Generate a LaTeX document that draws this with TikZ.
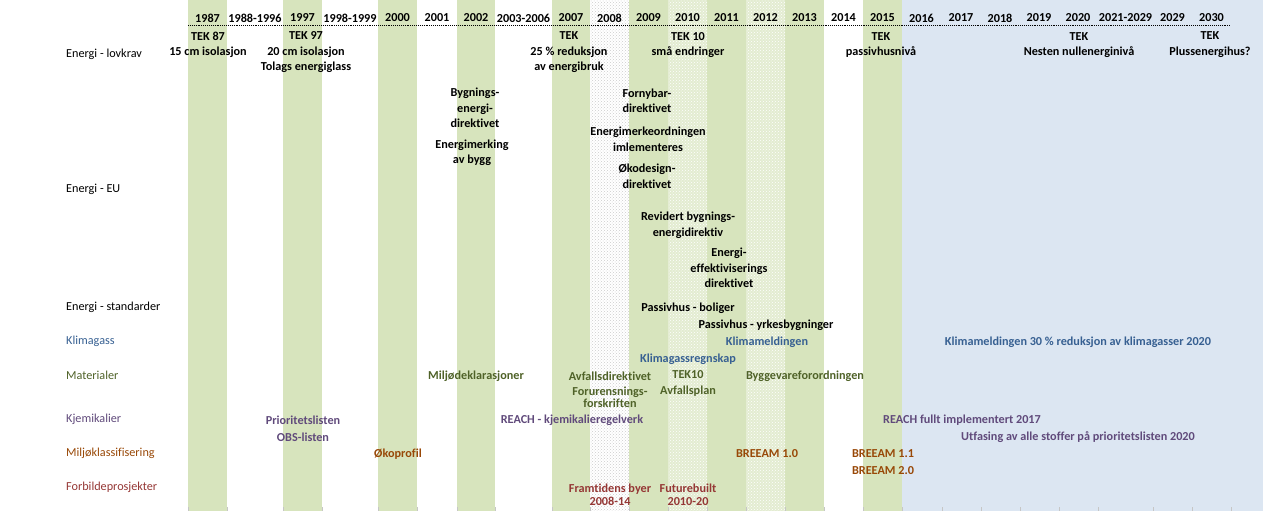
\documentclass[tikz,border=0pt]{standalone}
\usepackage{fontspec}
\setmainfont{Carlito}[Ligatures={NoCommon}]
\usepackage{tikz}
\usetikzlibrary{patterns}
\definecolor{fillgreen}{HTML}{D7E4BD}
\definecolor{fillblue}{HTML}{DCE6F2}
\definecolor{klimablue}{HTML}{376092}
\definecolor{matolive}{HTML}{4F6228}
\definecolor{kjemipurple}{HTML}{604A7B}
\definecolor{miljoorange}{HTML}{984807}
\definecolor{forbildred}{HTML}{953735}
\tikzstyle{rowlabel} = [anchor=west, inner sep=0pt, font=\fontsize{12.2}{15}\selectfont]
\tikzstyle{yearcell} = [inner sep=0pt, font=\bfseries\fontsize{12.2}{15}\selectfont]
\tikzstyle{entrycell} = [inner sep=0pt, align=center, font=\bfseries\fontsize{12.2}{15.5}\selectfont]
\tikzstyle{klimacell} = [entrycell, text=klimablue]
\tikzstyle{matcell} = [entrycell, text=matolive]
\tikzstyle{kjemicell} = [entrycell, text=kjemipurple]
\tikzstyle{miljocell} = [entrycell, text=miljoorange]
\tikzstyle{forbildcell} = [entrycell, text=forbildred]
\tikzstyle{greencol} = [fill=fillgreen]
\tikzstyle{dotcol} = [pattern=crosshatch dots, pattern color=gray!40]
\tikzstyle{dotgreencol} = [pattern=crosshatch dots, pattern color=white]

\begin{document}
\begin{tikzpicture}[x=1pt, y=-1pt]
\useasboundingbox (0,0) rectangle (1263,511);
% Column backgrounds:
% green years
\fill[greencol] (188,0) rectangle (227,511);
\fill[greencol] (283,0) rectangle (322,511);
\fill[greencol] (378,0) rectangle (417,511);
\fill[greencol] (457,0) rectangle (495,511);
\fill[greencol] (552,0) rectangle (590,511);
\fill[greencol] (629,0) rectangle (668,511);
\fill[greencol] (707,0) rectangle (746,511);
\fill[greencol] (785,0) rectangle (824,511);
\fill[greencol] (863,0) rectangle (902,511);
% dotted years (2008, 2010, 2012)
\fill[dotcol] (590,0) rectangle (629,511);
\fill[fillgreen!70] (668,0) rectangle (707,511);
\fill[dotgreencol] (668,0) rectangle (707,511);
\fill[fillgreen!70] (746,0) rectangle (785,511);
\fill[dotgreencol] (746,0) rectangle (785,511);
% future, 2016 and on
\fill[fillblue] (902,0) rectangle (1263,511);
% Ticks at the bottom edge
\draw[gray!45, line width=0.8pt] (188,507) -- (188,511) (227,507) -- (227,511)
  (283,507) -- (283,511) (322,507) -- (322,511) (378,507) -- (378,511)
  (417,507) -- (417,511) (457,507) -- (457,511) (495,507) -- (495,511)
  (552,507) -- (552,511) (590,507) -- (590,511) (629,507) -- (629,511)
  (668,507) -- (668,511) (707,507) -- (707,511) (746,507) -- (746,511)
  (785,507) -- (785,511) (824,507) -- (824,511) (863,507) -- (863,511)
  (902,507) -- (902,511) (942,507) -- (942,511) (981,507) -- (981,511)
  (1020,507) -- (1020,511) (1059,507) -- (1059,511) (1098,507) -- (1098,511)
  (1153,507) -- (1153,511) (1192,507) -- (1192,511) (1231,507) -- (1231,511);
% Year header and dotted rule
\coordinate (rulestart) at (188,25);
\coordinate (ruleend) at (1231,25);
\draw[densely dotted, line width=0.9pt] (rulestart) -- (ruleend);
\node[yearcell] (y1987) at (207.5,18) {1987};
\node[yearcell] (y1988) at (255,18) {1988-1996};
\node[yearcell] (y1997) at (302.5,18) {1997};
\node[yearcell] (y1998) at (350,18) {1998-1999};
\node[yearcell] (y2000) at (397.5,18) {2000};
\node[yearcell] (y2001) at (437,18) {2001};
\node[yearcell] (y2002) at (476,18) {2002};
\node[yearcell] (y2003) at (523.5,18) {2003-2006};
\node[yearcell] (y2007) at (571,18) {2007};
\node[yearcell] (y2008) at (609.5,18) {2008};
\node[yearcell] (y2009) at (648.5,18) {2009};
\node[yearcell] (y2010) at (687.5,18) {2010};
\node[yearcell] (y2011) at (726.5,18) {2011};
\node[yearcell] (y2012) at (765.5,18) {2012};
\node[yearcell] (y2013) at (804.5,18) {2013};
\node[yearcell] (y2014) at (843.5,18) {2014};
\node[yearcell] (y2015) at (882.5,18) {2015};
\node[yearcell] (y2016) at (921.5,18) {2016};
\node[yearcell] (y2017) at (961,18) {2017};
\node[yearcell] (y2018) at (1000,18) {2018};
\node[yearcell] (y2019) at (1039,18) {2019};
\node[yearcell] (y2020) at (1078,18) {2020};
\node[yearcell] (y2021) at (1125.5,18) {2021-2029};
\node[yearcell] (y2029) at (1172.5,18) {2029};
\node[yearcell] (y2030) at (1211.5,18) {2030};
% Row labels
\node[rowlabel] (lovkrav) at (66,54.5) {Energi - lovkrav};
\node[rowlabel] (eu) at (66,189.5) {Energi - EU};
\node[rowlabel] (standarder) at (66,307.5) {Energi - standarder};
\node[rowlabel, text=klimablue] (klimagass) at (66,341.5) {Klimagass};
\node[rowlabel, text=matolive] (materialer) at (66,375.5) {Materialer};
\node[rowlabel, text=kjemipurple] (kjemikalier) at (66,419.5) {Kjemikalier};
\node[rowlabel, text=miljoorange] (miljoklass) at (66,453.5) {Miljøklassifisering};
\node[rowlabel, text=forbildred] (forbilde) at (66,487.5) {Forbildeprosjekter};
% Row, Energi - lovkrav
\node[entrycell] (tek87) at (208,45) {TEK 87\\15 cm isolasjon};
\node[entrycell] (tek97) at (306,52.5) {TEK 97\\20 cm isolasjon\\Tolags energiglass};
\node[entrycell] (tek07) at (569,52.5) {TEK\\25 \% reduksjon\\av energibruk};
\node[entrycell] (tek10) at (688,45) {TEK 10\\små endringer};
\node[entrycell] (tek15) at (881,45) {TEK\\passivhusnivå};
\node[entrycell] (tek20) at (1079,45) {TEK\\Nesten nullenerginivå};
\node[entrycell] (tek30) at (1210,44.5) {TEK\\Plussenergihus?};
% Row, Energi - EU
\node[entrycell] (bygdir) at (475,108) {Bygnings-\\energi-\\direktivet};
\node[entrycell] (merking) at (472,153) {Energimerking\\av bygg};
\node[entrycell] (fornybar) at (647,101) {Fornybar-\\direktivet};
\node[entrycell] (merkeordning) at (648,139.5) {Energimerkeordningen\\imlementeres};
\node[entrycell] (okodesign) at (647,176.5) {Økodesign-\\direktivet};
\node[entrycell] (revidert) at (688,225.5) {Revidert bygnings-\\energidirektiv};
\node[entrycell] (effektiv) at (729,268) {Energi-\\effektiviserings\\direktivet};
% Row, Energi - standarder
\node[entrycell] (passivbolig) at (688,308) {Passivhus - boliger};
\node[entrycell] (passivyrkes) at (766,325) {Passivhus - yrkesbygninger};
% Row, Klimagass
\node[klimacell] (klimamelding) at (767,342) {Klimameldingen};
\node[klimacell] (klimaregnskap) at (688,359) {Klimagassregnskap};
\node[klimacell] (klima2020) at (1078,342) {Klimameldingen 30 \% reduksjon av klimagasser 2020};
% Row, Materialer
\node[matcell] (miljodekl) at (476,376) {Miljødeklarasjoner};
\node[matcell] (avfallsdir) at (610,376) {Avfallsdirektivet};
\node[matcell] (forurensning) at (610,397.5) {Forurensnings-\\[-3.5pt]forskriften};
\node[matcell] (tek10avf) at (688,383.5) {TEK10\\Avfallsplan};
\node[matcell] (byggevare) at (805,376) {Byggevareforordningen};
% Row, Kjemikalier
\node[kjemicell] (prioritet) at (303,420) {Prioritetslisten};
\node[kjemicell] (obs) at (303,437) {OBS-listen};
\node[kjemicell] (reach) at (572,420) {REACH - kjemikalieregelverk};
\node[kjemicell] (reachfull) at (962,420) {REACH fullt implementert 2017};
\node[kjemicell] (utfasing) at (1078,437) {Utfasing av alle stoffer på prioritetslisten 2020};
% Row, Miljøklassifisering
\node[miljocell] (okoprofil) at (398,454) {Økoprofil};
\node[miljocell] (breeam10) at (767,454) {BREEAM 1.0};
\node[miljocell] (breeam11) at (883,454) {BREEAM 1.1};
\node[miljocell] (breeam20) at (883,471) {BREEAM 2.0};
% Row, Forbildeprosjekter
\node[forbildcell] (framtidens) at (610,494.5) {Framtidens byer\\[-2.5pt]2008-14};
\node[forbildcell] (futurebuilt) at (688,494.5) {Futurebuilt\\[-2.5pt]2010-20};
\end{tikzpicture}
\end{document}
